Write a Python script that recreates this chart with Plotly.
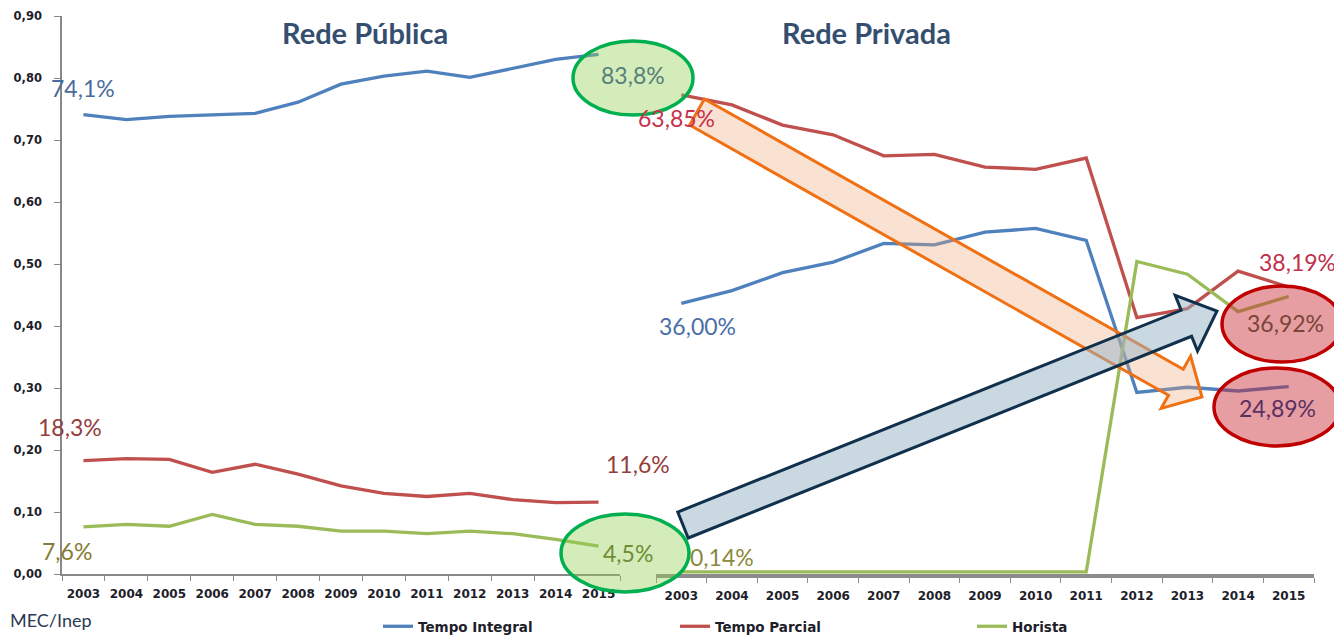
import math
import plotly.graph_objects as go

# ---------------- data ----------------
years = ["2003", "2004", "2005", "2006", "2007", "2008", "2009",
         "2010", "2011", "2012", "2013", "2014", "2015"]

# Rede Pública
pub_integral = [0.741, 0.733, 0.738, 0.740, 0.743, 0.761, 0.790, 0.803, 0.811, 0.801, 0.816, 0.830, 0.838]
pub_parcial = [0.183, 0.186, 0.185, 0.164, 0.177, 0.161, 0.142, 0.130, 0.125, 0.130, 0.120, 0.115, 0.116]
pub_horista = [0.076, 0.080, 0.077, 0.096, 0.080, 0.077, 0.069, 0.069, 0.065, 0.069, 0.065, 0.056, 0.045]

# Rede Privada
priv_integral = [0.360, 0.377, 0.401, 0.415, 0.440, 0.438, 0.455, 0.460, 0.444, 0.241, 0.248, 0.243, 0.2489]
priv_parcial = [0.6385, 0.625, 0.598, 0.585, 0.557, 0.559, 0.542, 0.539, 0.554, 0.341, 0.353, 0.403, 0.3819]
priv_horista = [0.0014, 0.0014, 0.0014, 0.0014, 0.0014, 0.0014, 0.0014, 0.0014, 0.0014, 0.416, 0.399, 0.349, 0.3692]

series_names = ["Tempo Integral", "Tempo Parcial", "Horista"]
y_ticks = [0.0, 0.1, 0.2, 0.3, 0.4, 0.5, 0.6, 0.7, 0.8, 0.9]

# ---------------- style ----------------
OFF = 8                      # page body margin of the html page
W, H = 1342 - OFF, 637 - OFF
L, R, T, B = 62 - OFF, 28, 16 - OFF, 63
PW, PH = W - L - R, H - T - B
COLORS = ["#4F81BD", "#C0504D", "#9BBB59"]
FONT = "Lato"
TICKFONT = "DejaVu Sans"


def pp(x, y):
    """screen pixel (reference picture) -> paper coordinates"""
    return (x - OFF - L) / PW, (H - B - (y - OFF)) / PH


fig = go.Figure()

pub = [pub_integral, pub_parcial, pub_horista]
priv = [priv_integral, priv_parcial, priv_horista]
for i, name in enumerate(series_names):
    fig.add_trace(go.Scatter(x=years, y=pub[i], mode="lines", name=name,
                             line=dict(color=COLORS[i], width=3.3),
                             xaxis="x", yaxis="y", showlegend=True, hoverinfo="skip"))
for i, name in enumerate(series_names):
    fig.add_trace(go.Scatter(x=years, y=priv[i], mode="lines", name=name,
                             line=dict(color=COLORS[i], width=3.3),
                             xaxis="x2", yaxis="y2", showlegend=False, hoverinfo="skip"))

axis_font = dict(family=TICKFONT, size=12, color="#1E1E2A", weight="bold")
yaxis_font = dict(family=TICKFONT, size=11.5, color="#1E1E2A", weight="bold")
left_dom = [0, (620 - 62) / PW]
right_dom = [(656 - 62) / PW, 1]
# right panel scale: zero at screen pixel 573, 749 px per unit
r_lo = -(574 - 573) / 749
r_hi = (573 - 16) / 749

fig.update_layout(
    width=W, height=H,
    margin=dict(l=L, r=R, t=T, b=B, pad=0, autoexpand=False),
    separators=",.",
    plot_bgcolor="white", paper_bgcolor="white",
    font=dict(family=FONT),
    xaxis=dict(domain=left_dom, type="category", range=[-0.5, 12.5],
               showline=True, linecolor="#898989", linewidth=2,
               ticks="outside", tickson="boundaries", ticklen=5, tickcolor="#898989",
               tickfont=axis_font, ticklabelstandoff=8,
               showgrid=False, zeroline=False, anchor="y", automargin=False),
    yaxis=dict(domain=[0, 1], range=[0, 0.9], tickvals=y_ticks, tickformat=".2f",
               showline=True, linecolor="#898989", linewidth=1.5,
               ticks="outside", ticklen=6, tickcolor="#898989",
               tickfont=yaxis_font, ticklabelstandoff=10,
               showgrid=False, zeroline=False, anchor="x", automargin=False),
    xaxis2=dict(domain=right_dom, type="category", range=[-0.5, 12.5],
                showline=True, linecolor="#8C8C8C", linewidth=3.5,
                ticks="outside", tickson="boundaries", ticklen=5, tickcolor="#8C8C8C",
                tickfont=axis_font, ticklabelstandoff=8,
                showgrid=False, zeroline=False, anchor="y2", automargin=False),
    yaxis2=dict(domain=[0, 1], range=[r_lo, r_hi], visible=False, anchor="x2"),
    legend=dict(orientation="h", x=pp(378, 0)[0], xanchor="left",
                y=pp(0, 611)[1], yanchor="top",
                entrywidth=252, entrywidthmode="pixels",
                font=dict(family=TICKFONT, size=13.5, color="#1E1E2A", weight="bold"),
                bgcolor="rgba(0,0,0,0)", borderwidth=0, itemwidth=30),
)


# ---------------- decorations ----------------
def block_arrow(tail, tip, hw, hl, hhw):
    dx, dy = tip[0] - tail[0], tip[1] - tail[1]
    ln = math.hypot(dx, dy)
    ux, uy = dx / ln, dy / ln
    nx, ny = -uy, ux
    bx, by = tip[0] - ux * hl, tip[1] - uy * hl
    pts = [
        (tail[0] + nx * hw, tail[1] + ny * hw),
        (bx + nx * hw, by + ny * hw),
        (bx + nx * hhw, by + ny * hhw),
        tip,
        (bx - nx * hhw, by - ny * hhw),
        (bx - nx * hw, by - ny * hw),
        (tail[0] - nx * hw, tail[1] - ny * hw),
    ]
    out = []
    for k, (x, y) in enumerate(pts):
        px_, py_ = pp(x, y)
        out.append(("M" if k == 0 else "L") + f"{px_:.5f},{py_:.5f}")
    return " ".join(out) + " Z"


shapes = []
shapes.append(dict(type="path", xref="paper", yref="paper", layer="above",
                   path=block_arrow((697, 112), (1202, 397), 15, 30, 30),
                   line=dict(color="#F07014", width=3),
                   fillcolor="rgba(240,165,115,0.32)"))
shapes.append(dict(type="path", xref="paper", yref="paper", layer="above",
                   path=block_arrow((683, 525), (1217, 311), 14, 33, 30),
                   line=dict(color="#10304C", width=3),
                   fillcolor="rgba(150,178,198,0.5)"))


def ellipse(cx, cy, rx, ry, line_color, fill):
    x0, y0 = pp(cx - rx, cy + ry)
    x1, y1 = pp(cx + rx, cy - ry)
    return dict(type="circle", xref="paper", yref="paper", layer="above",
                x0=x0, y0=y0, x1=x1, y1=y1,
                line=dict(color=line_color, width=3.5), fillcolor=fill)


GFILL = "rgba(146,208,80,0.4)"
RFILL = "rgba(200,40,50,0.45)"
shapes.append(ellipse(633, 78, 60, 37, "#00B050", GFILL))
shapes.append(ellipse(625, 553, 64, 39, "#00B050", GFILL))
shapes.append(ellipse(1282, 324, 60, 38, "#C00000", RFILL))
shapes.append(ellipse(1277, 407, 63, 39, "#C00000", RFILL))
fig.update_layout(shapes=shapes)

# ---------------- text ----------------
annots = []


def txt(text, x, y, color, size=23, bold=False, xanchor="center", family=FONT):
    px_, py_ = pp(x, y)
    annots.append(dict(text=text, x=px_, y=py_, xref="paper", yref="paper",
                       xanchor=xanchor, yanchor="middle", showarrow=False,
                       font=dict(family=family, size=size, color=color,
                                 weight="bold" if bold else "normal")))


txt("Rede Pública", 365, 32, "#344E70", size=29, bold=True)
txt("Rede Privada", 866, 32, "#344E70", size=29, bold=True)

txt("74,1%", 83, 88, "#4A6B9C")
txt("18,3%", 70, 427, "#933D3D")
txt("7,6%", 67, 551, "#857C35")
txt("11,6%", 638, 464, "#933D3D")
txt("4,5%", 628, 553, "#6F8C35")
txt("83,8%", 633, 75, "#56807A")
txt("63,85%", 676, 118, "#C8304A")
txt("36,00%", 697, 326, "#4A6EA8")
txt("0,14%", 722, 557, "#8A8A3C")
txt("38,19%", 1297, 262, "#C0304A")
txt("36,92%", 1285, 323, "#7A4535")
txt("24,89%", 1277, 408, "#5A3060")

txt("MEC/Inep", 8, 620, "#2A3A55", size=18, xanchor="left")

fig.update_layout(annotations=annots)

fig.write_html("out.html")
